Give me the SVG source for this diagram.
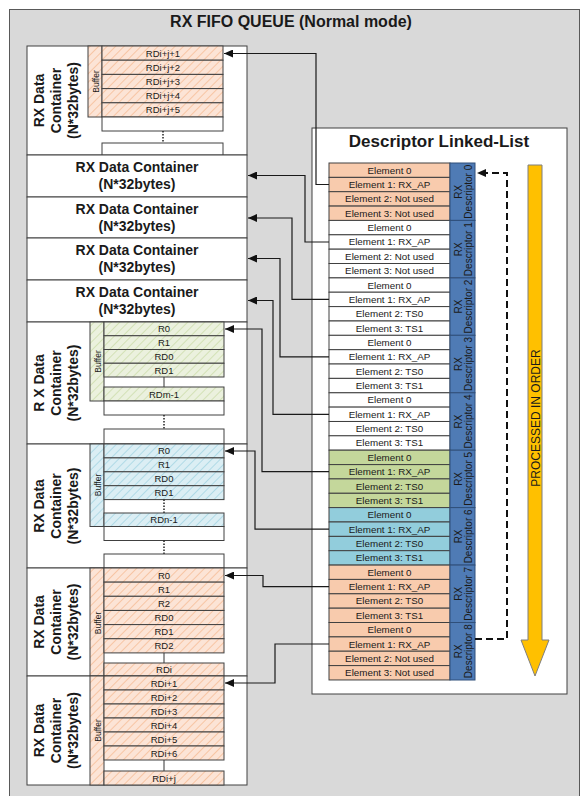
<svg xmlns="http://www.w3.org/2000/svg" width="580" height="796" viewBox="0 0 580 796">
<style>
text{font-family:"Liberation Sans",Arial,sans-serif;fill:#1a1a1a}
.title{font-size:16px;font-weight:bold;text-anchor:middle}
.cont{font-size:14px;font-weight:bold;text-anchor:middle}
.buf{font-size:8.5px;text-anchor:middle}
.rt{font-size:9.5px;text-anchor:middle}
.el{font-size:9.8px;text-anchor:middle}
.dt{font-size:10px;text-anchor:middle}
.frame{fill:#fff;stroke:#404040;stroke-width:1}
.row{stroke:#404040;stroke-width:1}
.ho{fill:url(#hO)}
.hg{fill:url(#hG)}
.hb{fill:url(#hB)}
.pe{fill:#f8cbad;stroke:#404040}
.wh{fill:#fff;stroke:#404040}
.gr{fill:#c4d79b;stroke:#404040}
.bl{fill:#92cddc;stroke:#404040}
.dc{fill:#4f7bb5;stroke:#2f4f7a}
.con{fill:none;stroke:#1a1a1a;stroke-width:1.2}
.dot{stroke:#222;stroke-width:1.5;stroke-dasharray:1.5 1.5}
.sol{stroke:#333;stroke-width:1}
</style>
<defs>
<pattern id="hO" patternUnits="userSpaceOnUse" width="6" height="6" patternTransform="rotate(45)">
<rect width="6" height="6" fill="#fce4d6"/><line x1="0" y1="0" x2="0" y2="6" stroke="#f4b183" stroke-width="1.2"/>
</pattern>
<pattern id="hG" patternUnits="userSpaceOnUse" width="6" height="6" patternTransform="rotate(45)">
<rect width="6" height="6" fill="#ebf1de"/><line x1="0" y1="0" x2="0" y2="6" stroke="#c3d69b" stroke-width="1.2"/>
</pattern>
<pattern id="hB" patternUnits="userSpaceOnUse" width="6" height="6" patternTransform="rotate(45)">
<rect width="6" height="6" fill="#dbeef4"/><line x1="0" y1="0" x2="0" y2="6" stroke="#93cddd" stroke-width="1.2"/>
</pattern>
<marker id="ah" markerUnits="userSpaceOnUse" markerWidth="10" markerHeight="8" refX="9" refY="4" orient="auto">
<path d="M0,0 L9,4 L0,8 z" fill="#111"/>
</marker>
</defs>

<rect x="9.5" y="9.5" width="570" height="790" fill="#d9d9d9" stroke="#595959"/>
<text class="title" x="291" y="27">RX FIFO QUEUE (Normal mode)</text>

<!-- Container 1 -->
<g id="container1">
<rect class="frame" x="27" y="46" width="220" height="109"/>
<text class="cont" transform="translate(44,100.5) rotate(-90)">RX Data</text>
<text class="cont" transform="translate(61,100.5) rotate(-90)">Container</text>
<text class="cont" transform="translate(78,100.5) rotate(-90)">(N*32bytes)</text>
<rect class="row ho" x="88" y="46" width="14" height="71"/>
<text class="buf" transform="translate(98.5,81.5) rotate(-90)">Buffer</text>
<rect class="row ho" x="102" y="46" width="121" height="14.2"/><text class="rt" x="163" y="56.5">RDi+j+1</text>
<rect class="row ho" x="102" y="60.2" width="121" height="14.2"/><text class="rt" x="163" y="70.7">RDi+j+2</text>
<rect class="row ho" x="102" y="74.4" width="121" height="14.2"/><text class="rt" x="163" y="84.9">RDi+j+3</text>
<rect class="row ho" x="102" y="88.6" width="121" height="14.2"/><text class="rt" x="163" y="99.1">RDi+j+4</text>
<rect class="row ho" x="102" y="102.8" width="121" height="14.2"/><text class="rt" x="163" y="113.3">RDi+j+5</text>
<rect class="row" fill="#fff" x="102" y="117" width="121" height="14"/>
<line class="dot" x1="163" y1="131" x2="163" y2="143"/>
<rect class="row" fill="#fff" x="102" y="143" width="121" height="12"/>
</g>

<!-- Middle containers -->
<g id="container2">
<rect class="frame" x="27" y="155" width="220" height="42"/>
<text class="cont" x="137" y="172">RX Data Container</text>
<text class="cont" x="137" y="189">(N*32bytes)</text>
</g>
<g id="container3">
<rect class="frame" x="27" y="197" width="220" height="41"/>
<text class="cont" x="137" y="213.5">RX Data Container</text>
<text class="cont" x="137" y="230.5">(N*32bytes)</text>
</g>
<g id="container4">
<rect class="frame" x="27" y="238" width="220" height="42"/>
<text class="cont" x="137" y="255">RX Data Container</text>
<text class="cont" x="137" y="272">(N*32bytes)</text>
</g>
<g id="container5">
<rect class="frame" x="27" y="280" width="220" height="42"/>
<text class="cont" x="137" y="297">RX Data Container</text>
<text class="cont" x="137" y="314">(N*32bytes)</text>
</g>

<!-- Green container -->
<g id="container6">
<rect class="frame" x="27" y="322" width="220" height="122"/>
<text class="cont" transform="translate(44,383) rotate(-90)">R X Data</text>
<text class="cont" transform="translate(61,383) rotate(-90)">Container</text>
<text class="cont" transform="translate(78,383) rotate(-90)">(N*32bytes)</text>
<rect class="row hg" x="90" y="322" width="14" height="79"/>
<text class="buf" transform="translate(100.5,361.5) rotate(-90)">Buffer</text>
<rect class="row hg" x="104" y="322" width="120" height="13.75"/><text class="rt" x="164" y="332.3">R0</text>
<rect class="row hg" x="104" y="335.75" width="120" height="13.75"/><text class="rt" x="164" y="346">R1</text>
<rect class="row hg" x="104" y="349.5" width="120" height="13.75"/><text class="rt" x="164" y="359.8">RD0</text>
<rect class="row hg" x="104" y="363.25" width="120" height="13.75"/><text class="rt" x="164" y="373.5">RD1</text>
<line class="sol" x1="164" y1="377" x2="164" y2="387"/>
<rect class="row hg" x="104" y="387" width="120" height="14"/><text class="rt" x="164" y="397.5">RDm-1</text>
<rect class="row" fill="#fff" x="104" y="401" width="120" height="14"/>
<line class="dot" x1="164" y1="415" x2="164" y2="429"/>
<rect class="row" fill="#fff" x="104" y="429" width="120" height="15"/>
</g>

<!-- Blue container -->
<g id="container7">
<rect class="frame" x="27" y="444" width="220" height="124"/>
<text class="cont" transform="translate(44,506) rotate(-90)">RX Data</text>
<text class="cont" transform="translate(61,506) rotate(-90)">Container</text>
<text class="cont" transform="translate(78,506) rotate(-90)">(N*32bytes)</text>
<rect class="row hb" x="90" y="444" width="14" height="82.5"/>
<text class="buf" transform="translate(100.5,485) rotate(-90)">Buffer</text>
<rect class="row hb" x="104" y="444" width="120" height="13.9"/><text class="rt" x="164" y="454.4">R0</text>
<rect class="row hb" x="104" y="457.9" width="120" height="13.9"/><text class="rt" x="164" y="468.3">R1</text>
<rect class="row hb" x="104" y="471.8" width="120" height="13.9"/><text class="rt" x="164" y="482.2">RD0</text>
<rect class="row hb" x="104" y="485.7" width="120" height="13.9"/><text class="rt" x="164" y="496.1">RD1</text>
<line class="dot" x1="164" y1="499.6" x2="164" y2="513"/>
<rect class="row hb" x="104" y="513" width="120" height="13.5"/><text class="rt" x="164" y="523.2">RDn-1</text>
<rect class="row" fill="#fff" x="104" y="526.5" width="120" height="14"/>
<line class="dot" x1="164" y1="540.5" x2="164" y2="554"/>
<rect class="row" fill="#fff" x="104" y="554" width="120" height="14"/>
</g>

<!-- Orange container -->
<g id="container8">
<rect class="frame" x="27" y="568" width="220" height="108"/>
<text class="cont" transform="translate(44,622) rotate(-90)">RX Data</text>
<text class="cont" transform="translate(61,622) rotate(-90)">Container</text>
<text class="cont" transform="translate(78,622) rotate(-90)">(N*32bytes)</text>
<rect class="row ho" x="90" y="568" width="14" height="108"/>
<text class="buf" transform="translate(100.5,623) rotate(-90)">Buffer</text>
<rect class="row ho" x="104" y="568" width="120" height="14.15"/><text class="rt" x="164" y="578.6">R0</text>
<rect class="row ho" x="104" y="582.15" width="120" height="14.15"/><text class="rt" x="164" y="592.7">R1</text>
<rect class="row ho" x="104" y="596.3" width="120" height="14.15"/><text class="rt" x="164" y="606.9">R2</text>
<rect class="row ho" x="104" y="610.45" width="120" height="14.15"/><text class="rt" x="164" y="621">RD0</text>
<rect class="row ho" x="104" y="624.6" width="120" height="14.15"/><text class="rt" x="164" y="635.2">RD1</text>
<rect class="row ho" x="104" y="638.75" width="120" height="14.15"/><text class="rt" x="164" y="649.3">RD2</text>
<line class="sol" x1="164" y1="652.9" x2="164" y2="663"/>
<rect class="row ho" x="104" y="663" width="120" height="13"/><text class="rt" x="164" y="673">RDi</text>
</g>

<!-- Last container -->
<g id="container9">
<rect class="frame" x="27" y="676" width="220" height="109"/>
<text class="cont" transform="translate(44,730.5) rotate(-90)">RX Data</text>
<text class="cont" transform="translate(61,730.5) rotate(-90)">Container</text>
<text class="cont" transform="translate(78,730.5) rotate(-90)">(N*32bytes)</text>
<rect class="row ho" x="90" y="676" width="14" height="109"/>
<text class="buf" transform="translate(100.5,730.5) rotate(-90)">Buffer</text>
<rect class="row ho" x="104" y="676" width="120" height="14"/><text class="rt" x="164" y="686.5">RDi+1</text>
<rect class="row ho" x="104" y="690" width="120" height="14"/><text class="rt" x="164" y="700.5">RDi+2</text>
<rect class="row ho" x="104" y="704" width="120" height="14"/><text class="rt" x="164" y="714.5">RDi+3</text>
<rect class="row ho" x="104" y="718" width="120" height="14"/><text class="rt" x="164" y="728.5">RDi+4</text>
<rect class="row ho" x="104" y="732" width="120" height="14"/><text class="rt" x="164" y="742.5">RDi+5</text>
<rect class="row ho" x="104" y="746" width="120" height="14"/><text class="rt" x="164" y="756.5">RDi+6</text>
<line class="sol" x1="164" y1="760" x2="164" y2="771"/>
<rect class="row ho" x="104" y="771" width="120" height="14"/><text class="rt" x="164" y="781.5">RDi+j</text>
</g>

<!-- Descriptor Linked-List -->
<g id="descriptor-list">
<rect x="312" y="128" width="255" height="566" fill="#fff" stroke="#404040"/>
<text class="title" style="font-size:17px" x="439" y="147">Descriptor Linked-List</text>
</g>

<g id="desc0">
<rect class="pe" x="329" y="163" width="121" height="14.36"/><text class="el" x="389.5" y="173.6">Element 0</text>
<rect class="pe" x="329" y="177.4" width="121" height="14.36"/><text class="el" x="389.5" y="188">Element 1: RX_AP</text>
<rect class="pe" x="329" y="191.7" width="121" height="14.36"/><text class="el" x="389.5" y="202.3">Element 2: Not used</text>
<rect class="pe" x="329" y="206.1" width="121" height="14.36"/><text class="el" x="389.5" y="216.7">Element 3: Not used</text>
<rect class="dc" x="450" y="163" width="25" height="57.44"/>
<text class="dt" transform="translate(462,191.7) rotate(-90)">RX</text>
<text class="dt" transform="translate(471.5,191.7) rotate(-90)">Descriptor 0</text>
</g>
<g id="desc1">
<rect class="wh" x="329" y="220.4" width="121" height="14.36"/><text class="el" x="389.5" y="231">Element 0</text>
<rect class="wh" x="329" y="234.8" width="121" height="14.36"/><text class="el" x="389.5" y="245.4">Element 1: RX_AP</text>
<rect class="wh" x="329" y="249.2" width="121" height="14.36"/><text class="el" x="389.5" y="259.8">Element 2: Not used</text>
<rect class="wh" x="329" y="263.5" width="121" height="14.36"/><text class="el" x="389.5" y="274.1">Element 3: Not used</text>
<rect class="dc" x="450" y="220.4" width="25" height="57.44"/>
<text class="dt" transform="translate(462,249.2) rotate(-90)">RX</text>
<text class="dt" transform="translate(471.5,249.2) rotate(-90)">Descriptor 1</text>
</g>
<g id="desc2">
<rect class="wh" x="329" y="277.9" width="121" height="14.36"/><text class="el" x="389.5" y="288.5">Element 0</text>
<rect class="wh" x="329" y="292.2" width="121" height="14.36"/><text class="el" x="389.5" y="302.8">Element 1: RX_AP</text>
<rect class="wh" x="329" y="306.6" width="121" height="14.36"/><text class="el" x="389.5" y="317.2">Element 2: TS0</text>
<rect class="wh" x="329" y="321" width="121" height="14.36"/><text class="el" x="389.5" y="331.6">Element 3: TS1</text>
<rect class="dc" x="450" y="277.9" width="25" height="57.44"/>
<text class="dt" transform="translate(462,306.6) rotate(-90)">RX</text>
<text class="dt" transform="translate(471.5,306.6) rotate(-90)">Descriptor 2</text>
</g>
<g id="desc3">
<rect class="wh" x="329" y="335.3" width="121" height="14.36"/><text class="el" x="389.5" y="345.9">Element 0</text>
<rect class="wh" x="329" y="349.7" width="121" height="14.36"/><text class="el" x="389.5" y="360.3">Element 1: RX_AP</text>
<rect class="wh" x="329" y="364" width="121" height="14.36"/><text class="el" x="389.5" y="374.6">Element 2: TS0</text>
<rect class="wh" x="329" y="378.4" width="121" height="14.36"/><text class="el" x="389.5" y="389">Element 3: TS1</text>
<rect class="dc" x="450" y="335.3" width="25" height="57.44"/>
<text class="dt" transform="translate(462,364) rotate(-90)">RX</text>
<text class="dt" transform="translate(471.5,364) rotate(-90)">Descriptor 3</text>
</g>
<g id="desc4">
<rect class="wh" x="329" y="392.8" width="121" height="14.36"/><text class="el" x="389.5" y="403.4">Element 0</text>
<rect class="wh" x="329" y="407.1" width="121" height="14.36"/><text class="el" x="389.5" y="417.7">Element 1: RX_AP</text>
<rect class="wh" x="329" y="421.5" width="121" height="14.36"/><text class="el" x="389.5" y="432.1">Element 2: TS0</text>
<rect class="wh" x="329" y="435.8" width="121" height="14.36"/><text class="el" x="389.5" y="446.4">Element 3: TS1</text>
<rect class="dc" x="450" y="392.8" width="25" height="57.44"/>
<text class="dt" transform="translate(462,421.5) rotate(-90)">RX</text>
<text class="dt" transform="translate(471.5,421.5) rotate(-90)">Descriptor 4</text>
</g>
<g id="desc5">
<rect class="gr" x="329" y="450.2" width="121" height="14.36"/><text class="el" x="389.5" y="460.8">Element 0</text>
<rect class="gr" x="329" y="464.6" width="121" height="14.36"/><text class="el" x="389.5" y="475.2">Element 1: RX_AP</text>
<rect class="gr" x="329" y="478.9" width="121" height="14.36"/><text class="el" x="389.5" y="489.5">Element 2: TS0</text>
<rect class="gr" x="329" y="493.3" width="121" height="14.36"/><text class="el" x="389.5" y="503.9">Element 3: TS1</text>
<rect class="dc" x="450" y="450.2" width="25" height="57.44"/>
<text class="dt" transform="translate(462,478.9) rotate(-90)">RX</text>
<text class="dt" transform="translate(471.5,478.9) rotate(-90)">Descriptor 5</text>
</g>
<g id="desc6">
<rect class="bl" x="329" y="507.6" width="121" height="14.36"/><text class="el" x="389.5" y="518.2">Element 0</text>
<rect class="bl" x="329" y="522" width="121" height="14.36"/><text class="el" x="389.5" y="532.6">Element 1: RX_AP</text>
<rect class="bl" x="329" y="536.4" width="121" height="14.36"/><text class="el" x="389.5" y="547">Element 2: TS0</text>
<rect class="bl" x="329" y="550.7" width="121" height="14.36"/><text class="el" x="389.5" y="561.3">Element 3: TS1</text>
<rect class="dc" x="450" y="507.6" width="25" height="57.44"/>
<text class="dt" transform="translate(462,536.4) rotate(-90)">RX</text>
<text class="dt" transform="translate(471.5,536.4) rotate(-90)">Descriptor 6</text>
</g>
<g id="desc7">
<rect class="pe" x="329" y="565.1" width="121" height="14.36"/><text class="el" x="389.5" y="575.7">Element 0</text>
<rect class="pe" x="329" y="579.4" width="121" height="14.36"/><text class="el" x="389.5" y="590">Element 1: RX_AP</text>
<rect class="pe" x="329" y="593.8" width="121" height="14.36"/><text class="el" x="389.5" y="604.4">Element 2: TS0</text>
<rect class="pe" x="329" y="608.2" width="121" height="14.36"/><text class="el" x="389.5" y="618.8">Element 3: TS1</text>
<rect class="dc" x="450" y="565.1" width="25" height="57.44"/>
<text class="dt" transform="translate(462,593.8) rotate(-90)">RX</text>
<text class="dt" transform="translate(471.5,593.8) rotate(-90)">Descriptor 7</text>
</g>
<g id="desc8">
<rect class="pe" x="329" y="622.5" width="121" height="14.36"/><text class="el" x="389.5" y="633.1">Element 0</text>
<rect class="pe" x="329" y="636.9" width="121" height="14.36"/><text class="el" x="389.5" y="647.5">Element 1: RX_AP</text>
<rect class="pe" x="329" y="651.2" width="121" height="14.36"/><text class="el" x="389.5" y="661.8">Element 2: Not used</text>
<rect class="pe" x="329" y="665.6" width="121" height="14.36"/><text class="el" x="389.5" y="676.2">Element 3: Not used</text>
<rect class="dc" x="450" y="622.5" width="25" height="57.5"/>
<text class="dt" transform="translate(462,651.2) rotate(-90)">RX</text>
<text class="dt" transform="translate(471.5,651.2) rotate(-90)">Descriptor 8</text>
</g>

<g id="processed-arrow">
<polygon points="528,165 542,165 542,640 549,640 535,676 521,640 528,640" fill="#ffc000" stroke="#7f7f7f" stroke-width="1"/>
<text style="font-size:12px;text-anchor:middle" transform="translate(539.5,418) rotate(-90)">PROCESSED IN ORDER</text>
</g>

<g id="connectors">
<path class="con" marker-end="url(#ah)" d="M329,184.5 H316 V53.5 H224"/>
<path class="con" marker-end="url(#ah)" d="M329,242 H305 V175.5 H248"/>
<path class="con" marker-end="url(#ah)" d="M329,299.4 H292 V218 H248"/>
<path class="con" marker-end="url(#ah)" d="M329,356.9 H280 V258.5 H248"/>
<path class="con" marker-end="url(#ah)" d="M329,414.3 H273 V300.5 H248"/>
<path class="con" marker-end="url(#ah)" d="M329,471.7 H262 V329 H225"/>
<path class="con" marker-end="url(#ah)" d="M329,529.2 H255 V451 H225"/>
<path class="con" marker-end="url(#ah)" d="M329,586.6 H263 V575.5 H225"/>
<path class="con" marker-end="url(#ah)" d="M329,644 H275 V683 H225"/>
<path fill="none" stroke="#111" stroke-width="2" stroke-dasharray="7 4" marker-end="url(#ah)" d="M475,639 H507 V173 H477"/>
</g>
</svg>
